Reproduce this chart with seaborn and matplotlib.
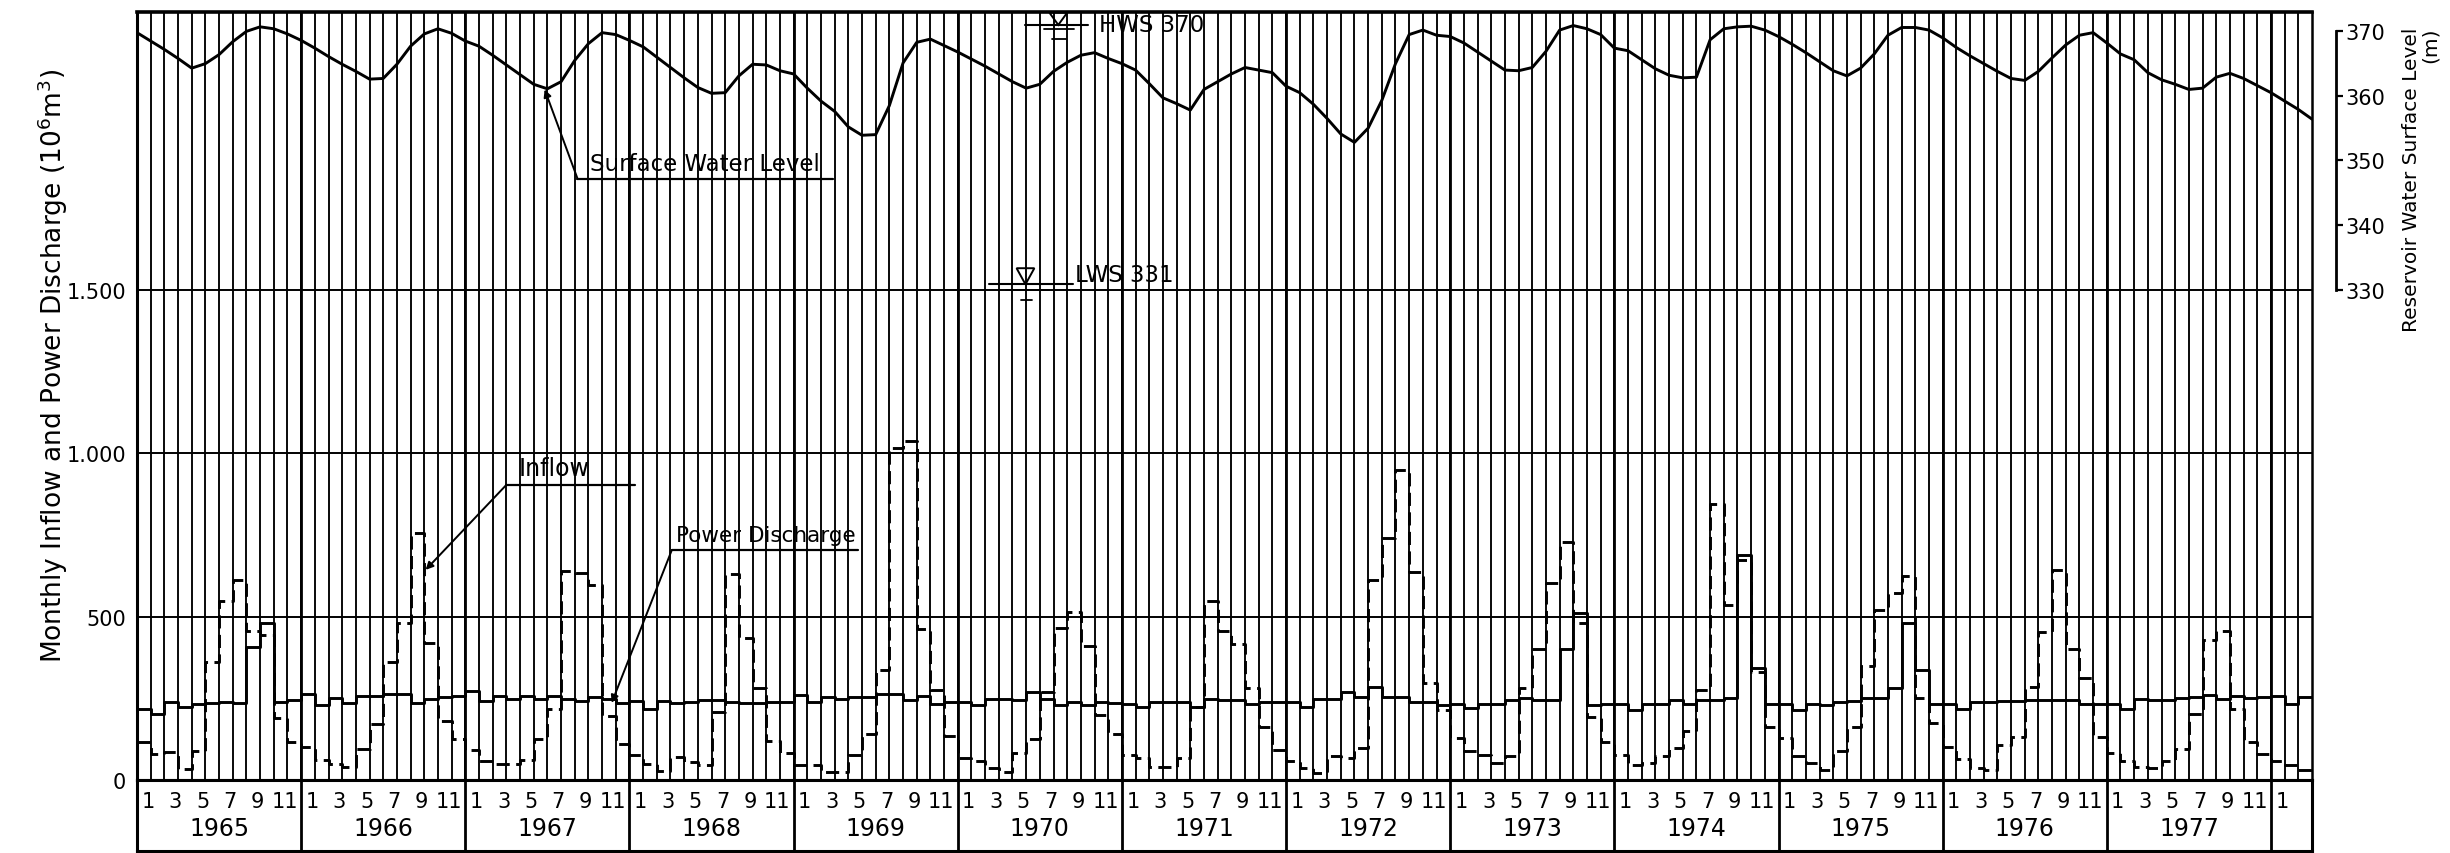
import numpy as np
import pandas as pd
import matplotlib
matplotlib.use("Agg")
import matplotlib.pyplot as plt
from matplotlib.patches import Polygon
import seaborn as sns

# ---------------- data ----------------
years = list(range(1965, 1978))
tail_label = "1"                      # Jan 1978 (box without year)
month_labels = ["1", "3", "5", "7", "9", "11"]
left_ticks = [0, 500, 1000, 1500]
left_ticklabels = ["0", "500", "1.000", "1.500"]
right_ticks = [330, 340, 350, 360, 370]

# monthly inflow (10^6 m^3), Jan 1965 .. Mar 1978
inflow = [
    117, 80, 85, 34, 88, 361, 549, 611, 455, 445, 190, 117,
    100, 62, 49, 39, 96, 172, 361, 481, 757, 419, 180, 126,
    93, 59, 49, 49, 62, 126, 216, 638, 632, 596, 195, 111,
    75, 49, 28, 70, 55, 45, 207, 630, 435, 280, 119, 83,
    47, 47, 26, 26, 78, 140, 337, 1016, 1036, 461, 275, 135,
    67, 57, 36, 26, 83, 124, 270, 466, 515, 409, 200, 140,
    78, 67, 41, 41, 67, 223, 549, 456, 415, 280, 163, 93,
    57, 36, 21, 73, 67, 98, 611, 741, 948, 635, 297, 214,
    130, 89, 78, 52, 73, 281, 401, 604, 729, 479, 193, 115,
    78, 47, 52, 73, 99, 150, 276, 844, 536, 672, 330, 161,
    130, 73, 52, 31, 89, 161, 349, 521, 573, 623, 250, 174,
    100, 63, 37, 32, 106, 132, 285, 454, 644, 401, 311, 132,
    84, 57, 41, 36, 57, 95, 203, 427, 457, 216, 117, 79,
    57, 46, 32,
]

# monthly power discharge (10^6 m^3)
power_discharge = [
    217, 202, 238, 222, 233, 235, 240, 235, 408, 481, 240, 245,
    262, 231, 252, 236, 257, 257, 262, 262, 236, 247, 254, 257,
    273, 242, 257, 247, 257, 247, 257, 247, 242, 254, 247, 236,
    242, 216, 242, 235, 240, 245, 245, 240, 235, 235, 240, 240,
    259, 240, 254, 249, 254, 254, 262, 262, 244, 257, 233, 240,
    240, 228, 249, 249, 244, 270, 249, 230, 240, 230, 238, 236,
    233, 223, 238, 238, 240, 223, 249, 244, 244, 233, 240, 238,
    238, 223, 249, 249, 269, 254, 285, 254, 254, 240, 240, 230,
    234, 219, 234, 234, 245, 250, 245, 245, 401, 510, 229, 234,
    234, 214, 234, 234, 245, 234, 245, 245, 250, 688, 344, 234,
    234, 214, 234, 229, 240, 242, 250, 250, 281, 480, 338, 232,
    232, 216, 238, 238, 243, 243, 245, 245, 245, 245, 232, 232,
    232, 217, 249, 244, 246, 252, 254, 259, 249, 257, 252, 254,
    257, 232, 255,
]

# reservoir water surface level (m) at month boundaries (start Jan 1965 .. end Mar 1978)
surface_level = [
    369.8, 368.5, 367.2, 365.8, 364.3, 365.0, 366.4, 368.4, 370.0, 370.7, 370.4, 369.6,
    368.6, 367.4, 366.1, 364.9, 363.8, 362.6, 362.7, 364.9, 367.7, 369.6, 370.4, 369.7,
    368.5, 367.7, 366.3, 364.8, 363.3, 361.8, 361.1, 362.2, 365.5, 368.1, 369.8, 369.5,
    368.6, 367.6, 366.0, 364.4, 362.8, 361.3, 360.4, 360.5, 363.1, 364.9, 364.8, 363.9,
    363.4, 361.2, 359.2, 357.6, 355.2, 353.9, 354.0, 358.5, 365.1, 368.3, 368.8, 367.8,
    366.8, 365.7, 364.6, 363.4, 362.2, 361.2, 361.8, 363.8, 365.2, 366.3, 366.7, 365.8,
    365.0, 364.0, 361.9, 359.7, 358.8, 357.8, 361.0, 362.2, 363.4, 364.4, 364.0, 363.6,
    361.5, 360.5, 358.7, 356.5, 354.1, 352.8, 355.0, 359.3, 365.0, 369.5, 370.2, 369.4,
    369.2, 368.2, 366.8, 365.4, 364.0, 363.9, 364.4, 366.9, 370.2, 370.9, 370.4, 369.5,
    367.4, 367.0, 365.6, 364.2, 363.2, 362.8, 362.9, 368.7, 370.4, 370.7, 370.8, 370.2,
    369.2, 368.0, 366.7, 365.3, 363.9, 363.1, 364.3, 366.5, 369.4, 370.6, 370.6, 370.2,
    369.0, 367.5, 366.2, 365.0, 363.8, 362.7, 362.4, 363.8, 365.9, 367.9, 369.4, 369.8,
    368.2, 366.5, 365.6, 363.6, 362.5, 361.8, 361.0, 361.2, 362.9, 363.5, 362.7, 361.6,
    360.5, 359.2, 357.9, 356.4,
]

hws_level = 370
lws_level = 331

# ---------------- style ----------------
sns.set_theme(style="white")
plt.rcParams["font.family"] = ["DejaVu Sans"]
plt.rcParams["axes.edgecolor"] = "black"
plt.rcParams["text.color"] = "black"
plt.rcParams["xtick.color"] = "black"
plt.rcParams["ytick.color"] = "black"

n = len(inflow)
fig = plt.figure(figsize=(24.5, 8.54), dpi=100)
L = 137 / 2450
W = (2312 - 137) / 2450
ax = fig.add_axes([L, 1 - 781 / 854, W, (781 - 13) / 854])
axt = fig.add_axes([L, 1 - 852 / 854, W, (852 - 781) / 854])

# ---------------- main axes: inflow & power discharge ----------------
edges = np.arange(n + 1)
steps = pd.DataFrame({
    "month": edges,
    "inflow": inflow + inflow[-1:],
    "power": power_discharge + power_discharge[-1:],
})
sns.lineplot(data=steps, x="month", y="power", ax=ax, color="black", lw=2.1,
             drawstyle="steps-post", estimator=None, sort=False)
sns.lineplot(data=steps, x="month", y="inflow", ax=ax, color="black", lw=2.1,
             drawstyle="steps-post", linestyle=(0, (4.5, 2.2)), estimator=None, sort=False)

ax.set_xlim(0, n)
ax.set_ylim(0, 2350)
ax.set_xticks(np.arange(1, n))
ax.tick_params(axis="x", length=0, labelbottom=False)
ax.set_yticks(left_ticks)
ax.set_yticklabels(left_ticklabels)
ax.tick_params(axis="y", length=0, pad=8, labelsize=15)
ax.xaxis.grid(True, color="black", lw=1.35)
ax.yaxis.grid(True, color="black", lw=1.4)
ax.set_axisbelow(True)
for k in range(1, len(years) + 1):
    ax.axvline(12 * k, color="black", lw=2.0, zorder=1)
ax.set_xlabel("")
ax.set_ylabel("")
for side, lw in [("top", 2.6), ("left", 2.2), ("bottom", 2.2), ("right", 1.8)]:
    ax.spines[side].set_visible(True)
    ax.spines[side].set_linewidth(lw)
    ax.spines[side].set_color("black")

# annotations (inflow / power discharge)
arrow = dict(arrowstyle="-|>", color="black", lw=1.4, mutation_scale=11, shrinkA=0, shrinkB=0)
ax.plot([27.0, 36.4], [903, 903], color="black", lw=1.6)
ax.text(27.9, 918, "Inflow", ha="left", va="bottom", fontsize=17)
ax.annotate("", xy=(21.1, 643), xytext=(27.0, 903), arrowprops=arrow)

ax.plot([39.1, 52.7], [704, 704], color="black", lw=1.6)
ax.text(39.4, 718, "Power Discharge", ha="left", va="bottom", fontsize=15.5)
ax.annotate("", xy=(34.7, 236), xytext=(39.1, 704), arrowprops=arrow)

# ---------------- twin axis: water level ----------------
ax2 = ax.twinx()
lev = pd.DataFrame({"month": np.arange(len(surface_level)), "level": surface_level})
sns.lineplot(data=lev, x="month", y="level", ax=ax2, color="black", lw=2.1,
             estimator=None, sort=False)
ax2.set_xlim(0, n)
ax2.set_ylim(254, 373)
ax2.grid(False)
ax2.set_yticks(right_ticks)
ax2.set_yticklabels([str(t) for t in right_ticks])
ax2.tick_params(axis="y", left=False, labelleft=False, right=True, labelright=True,
                length=5, width=1.6, pad=2, labelsize=15)
ax2.set_xlabel("")
ax2.set_ylabel("")
for side in ["top", "left", "bottom"]:
    ax2.spines[side].set_visible(False)
ax2.spines["right"].set_visible(True)
ax2.spines["right"].set_position(("outward", 17))
ax2.spines["right"].set_bounds(330, 370)
ax2.spines["right"].set_linewidth(2.0)

# Surface water level label
ax2.plot([32.2, 50.9], [347.2, 347.2], color="black", lw=1.6)
ax2.text(33.1, 347.8, "Surface Water Level", ha="left", va="bottom", fontsize=16.5)
ax2.annotate("", xy=(29.8, 361.0), xytext=(32.2, 347.2), arrowprops=arrow)

# HWS symbol
ax2.plot([64.9, 69.5], [hws_level + 1.0, hws_level + 1.0], color="black", lw=1.5)
ax2.plot([66.3, 68.5], [hws_level + 0.3, hws_level + 0.3], color="black", lw=1.3)
ax2.plot([66.9, 67.9], [hws_level - 1.2, hws_level - 1.2], color="black", lw=1.3)
ax2.add_patch(Polygon([[66.7, 372.9], [68.0, 372.9], [67.35, hws_level + 1.0]],
                      closed=True, fill=False, edgecolor="black", lw=1.4))
ax2.text(70.3, hws_level + 1.0, "HWS 370", ha="left", va="center", fontsize=16.5)

# LWS symbol
ax2.plot([62.3, 68.4], [lws_level - 0.2, lws_level - 0.2], color="black", lw=1.5)
ax2.plot([63.5, 66.7], [lws_level - 1.0, lws_level - 1.0], color="black", lw=1.3)
ax2.plot([64.6, 65.4], [lws_level - 2.6, lws_level - 2.6], color="black", lw=1.3)
ax2.add_patch(Polygon([[64.3, 333.3], [65.6, 333.3], [64.95, lws_level - 0.2]],
                      closed=True, fill=False, edgecolor="black", lw=1.4))
ax2.text(68.6, 332.3, "LWS 331", ha="left", va="center", fontsize=16.5)

# ---------------- bottom table: months & years ----------------
axt.set_xlim(0, n)
axt.set_ylim(0, 1)
axt.set_xticks([])
axt.set_yticks([])
axt.grid(False)
for side in ["top", "left", "bottom", "right"]:
    axt.spines[side].set_visible(True)
    axt.spines[side].set_linewidth(2.2)
    axt.spines[side].set_color("black")
axt.vlines([12 * k for k in range(1, len(years) + 1)], 0, 1, color="black", lw=2.0)
for yi, yr in enumerate(years):
    for lab in month_labels:
        m = int(lab)
        axt.text(12 * yi + m - 0.5 + 0.3, 0.70, lab, ha="center", va="center", fontsize=15)
    axt.text(12 * yi + 6, 0.32, str(yr), ha="center", va="center", fontsize=17)
axt.text(12 * len(years) + 0.8, 0.70, tail_label, ha="center", va="center", fontsize=15)

# ---------------- axis titles ----------------
fig.text(0.0215, 0.572, "Monthly Inflow and Power Discharge (10$^6$m$^3$)",
         rotation=90, ha="center", va="center", fontsize=19)
fig.text(0.9882, 0.79, "Reservoir Water Surface Level\n(m)", rotation=90,
         ha="center", va="center", multialignment="right", fontsize=14.5, linespacing=1.0)

fig.savefig("out.png", dpi=100)
